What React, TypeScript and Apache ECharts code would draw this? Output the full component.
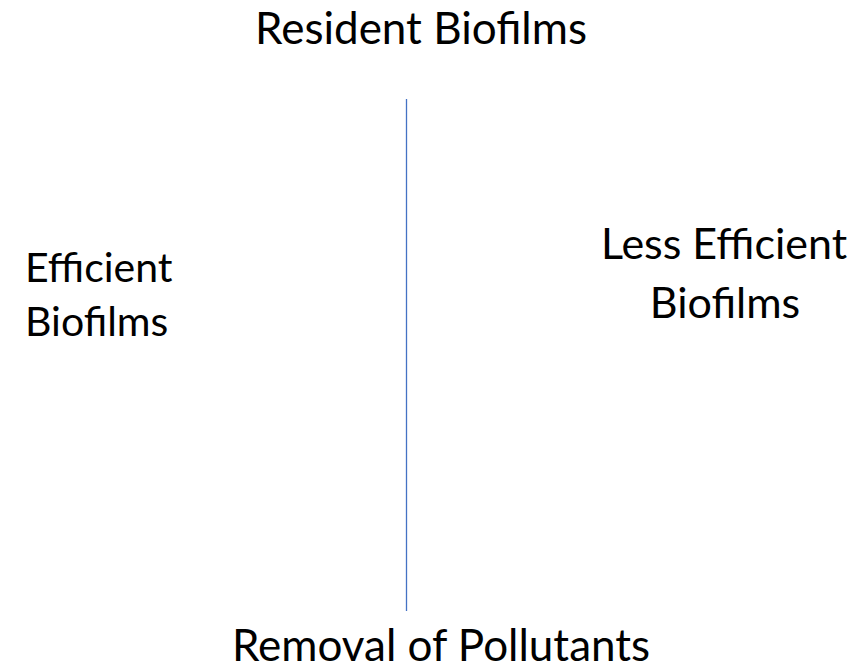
import React, { useEffect, useRef } from "react";
import * as echarts from "echarts";

const topLabel = ["Resident Biofilms"];
const bottomLabel = ["Removal of Pollutants"];
const leftLabel = ["Efficient", "Biofilms"];
const rightLabel = ["Less Efficient", "Biofilms"];
const dividerX = [0, 0];
const dividerY = [0, 1];

const FONT = "Lato, 'Open Sans', sans-serif";

export default function App() {
  const ref = useRef<HTMLDivElement>(null);
  useEffect(() => {
    if (!ref.current) return;
    const chart = echarts.init(ref.current, undefined, { renderer: "svg" });
    const txt = (s: string, x: number, y: number, fs: number, align = "center") => ({
      type: "text",
      x,
      y,
      style: {
        text: s,
        fill: "#000000",
        font: `${fs}px ${FONT}`,
        align,
        verticalAlign: "middle",
      },
    });
    chart.setOption({
      animation: false,
      backgroundColor: "#ffffff",
      grid: { left: 0.5, width: 812, top: 99, bottom: 60, containLabel: false },
      xAxis: { type: "value", min: -1, max: 1, show: false },
      yAxis: { type: "value", min: 0, max: 1, show: false },
      series: [
        {
          type: "line",
          data: dividerX.map((x, i) => [x, dividerY[i]]),
          symbol: "none",
          lineStyle: { color: "#4472C4", width: 1.3 },
          silent: true,
        },
      ],
      graphic: [
        txt(topLabel[0], 421, 27, 44),
        txt(bottomLabel[0], 441, 644, 44),
        txt(leftLabel[0], 25, 266, 41, "left"),
        txt(leftLabel[1], 25, 320, 41, "left"),
        txt(rightLabel[0], 724, 242, 43),
        txt(rightLabel[1], 725, 301, 43),
      ],
    });
    return () => chart.dispose();
  }, []);
  return <div ref={ref} style={{ width: 856, height: 671, position: "absolute", left: 0, top: 0 }} />;
}
